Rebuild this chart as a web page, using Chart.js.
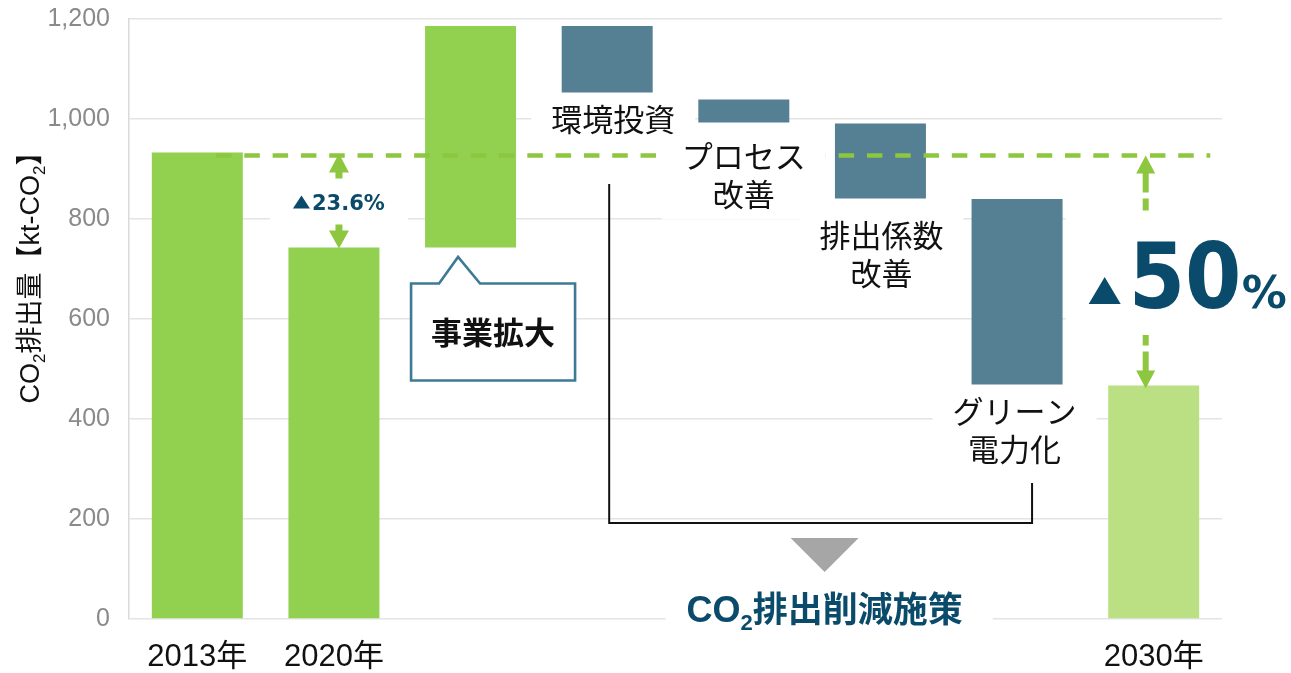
<!DOCTYPE html>
<html><head><meta charset="utf-8">
<script src="https://cdn.jsdelivr.net/npm/chart.js@4.4.1/dist/chart.umd.min.js"></script>
<style>html,body{margin:0;padding:0;background:#fff;overflow:hidden}</style>
</head><body>
<canvas id="c" width="1291" height="673"></canvas>
<script>
// ---- data ----
const categories = ['2013年','2020年','事業拡大','環境投資','プロセス改善','排出係数改善','グリーン電力化','2030年'];
const barLow  = [0, 0, 743, 1053, 993, 841, 469, 0];
const barHigh = [933, 743, 1186, 1186, 1039, 991, 840, 467];
const barColors = ['#92D050','#92D050','#92D050','#557F93','#557F93','#557F93','#557F93','#BBE083'];
const tickLabels = ['2013年','2020年','','','','','','2030年'];
const yTicks = [0,200,400,600,800,1000,1200];
const stepLabels = [null,null,null,['環境投資'],['プロセス','改善'],['排出係数','改善'],['グリーン','電力化'],null];
const baseline2013 = 927;
const label2020 = '▲23.6%';
const label2030 = ['50','%'];
const calloutText = '事業拡大';
const groupLabel = ['CO','2','排出削減施策'];
const yTitle = [['CO','l'],['2','s'],['排出量','c'],['【','c'],['kt-CO','l'],['2','s'],['】','c']];

const GREEN = '#8DC63F', NAVY = '#0A4A6A';
const LATIN = '"Liberation Sans", "Noto Sans CJK JP"';
const CJK = '"Noto Sans CJK JP", "Liberation Sans"';

const overlay = {
  id: 'overlay',
  afterDatasetsDraw(chart) {
    const ctx = chart.ctx;
    const xs = chart.scales.x, ys = chart.scales.y;
    const cx = i => xs.getPixelForValue(i);
    const cw = cx(1) - cx(0);
    const py = v => ys.getPixelForValue(v);
    ctx.save();

    // dashed 2013 reference line
    const by = py(baseline2013);
    ctx.strokeStyle = GREEN; ctx.lineWidth = 4.5; ctx.setLineDash([15.5, 12.8]);
    ctx.beginPath(); ctx.moveTo(cx(0) + 0.137*cw, by); ctx.lineTo(cx(7) + 0.414*cw, by); ctx.stroke();
    ctx.setLineDash([]);

    function head(x, tip, dir, w, h) {
      ctx.beginPath(); ctx.moveTo(x, tip); ctx.lineTo(x - w/2, tip + dir*h); ctx.lineTo(x + w/2, tip + dir*h); ctx.closePath(); ctx.fill();
    }
    function tri(xl, base, w, h) {
      ctx.beginPath(); ctx.moveTo(xl, base); ctx.lineTo(xl + w, base); ctx.lineTo(xl + w/2, base - h); ctx.closePath(); ctx.fill();
    }
    ctx.fillStyle = GREEN; ctx.strokeStyle = GREEN;
    // 2020 arrow
    const a1 = cx(1) + 5, top1 = by - 2, bot1 = py(barHigh[1]) + 1;
    head(a1, top1, 1, 20, 19); head(a1, bot1, -1, 20, 18);
    ctx.lineWidth = 7; ctx.beginPath(); ctx.moveTo(a1, top1 + 18); ctx.lineTo(a1, bot1 - 17); ctx.stroke();
    // 2030 arrow
    const a2 = cx(7) - 8, top2 = by, bot2 = py(barHigh[7]) + 3;
    head(a2, top2, 1, 19, 18); head(a2, bot2, -1, 19, 18);
    ctx.lineWidth = 6;
    ctx.setLineDash([20, 6, 12, 6]);
    ctx.beginPath(); ctx.moveTo(a2, top2 + 17); ctx.lineTo(a2, (top2 + bot2)/2); ctx.stroke();
    ctx.beginPath(); ctx.moveTo(a2, bot2 - 17); ctx.lineTo(a2, (top2 + bot2)/2); ctx.stroke();
    ctx.setLineDash([]);

    // step labels with white boxes
    const stepFont = '31px ' + CJK;
    const pos = {3:{dx:6, dy:27}, 4:{dx:0, dy:34}, 5:{dx:1, dy:37}, 6:{dx:-2.5, dy:27}};
    const gap = 38;
    ctx.font = stepFont;
    stepLabels.forEach((lines, i) => {
      if (!lines) return;
      const xc = cx(i) + pos[i].dx, y0 = py(barLow[i]) + pos[i].dy;
      const w = Math.max(...lines.map(l => ctx.measureText(l).width));
      ctx.fillStyle = '#fff';
      ctx.fillRect(xc - w/2 - 20, y0 - 14 - 11, w + 40, (lines.length - 1)*gap + 28 + 22);
    });
    ctx.fillStyle = '#111'; ctx.textAlign = 'center'; ctx.textBaseline = 'middle';
    stepLabels.forEach((lines, i) => {
      if (!lines) return;
      const xc = cx(i) + pos[i].dx, y0 = py(barLow[i]) + pos[i].dy;
      lines.forEach((l, k) => ctx.fillText(l, xc, y0 + k*gap));
    });

    // 2020 label (triangle drawn as a shape, then the number)
    const m1 = (top1 + bot1) / 2 + 0.5;
    ctx.fillStyle = '#fff'; ctx.fillRect(a1 - 69, m1 - 23, 138, 46);
    ctx.fillStyle = NAVY;
    tri(a1 - 46, m1 + 7, 17, 13);
    ctx.font = 'bold 21px "DejaVu Sans"'; ctx.textAlign = 'left'; ctx.textBaseline = 'alphabetic';
    ctx.fillText(label2020.slice(1), a1 - 27, m1 + 8);

    // 2030 label
    const m2 = (top2 + bot2) / 2;
    ctx.fillStyle = '#fff'; ctx.fillRect(a2 - 80, m2 - 60, 260, 123);
    ctx.fillStyle = NAVY;
    const base = m2 + 36;
    tri(a2 - 57, base - 4, 32, 27);
    ctx.save(); ctx.translate(a2 - 17, base); ctx.scale(0.9, 1);
    ctx.font = 'bold 90px "DejaVu Sans"'; ctx.fillText(label2030[0], 0, 0);
    ctx.restore();
    ctx.font = 'bold 45px "DejaVu Sans"'; ctx.fillText(label2030[1], a2 + 96, base);

    // callout for 事業拡大
    const c2 = cx(2), bb = py(barLow[2]);
    const bxL = c2 - 59.5, bxR = c2 + 104.5, bxT = bb + 36, bxB = bb + 133;
    ctx.beginPath();
    ctx.moveTo(bxL, bxT); ctx.lineTo(c2 - 31.5, bxT); ctx.lineTo(c2 - 12.5, bb + 9.5); ctx.lineTo(c2 + 9.5, bxT);
    ctx.lineTo(bxR, bxT); ctx.lineTo(bxR, bxB); ctx.lineTo(bxL, bxB); ctx.closePath();
    ctx.fillStyle = '#fff'; ctx.fill();
    ctx.strokeStyle = '#3D7A94'; ctx.lineWidth = 2.6; ctx.lineJoin = 'miter'; ctx.stroke();
    ctx.fillStyle = '#111'; ctx.font = 'bold 31px ' + CJK; ctx.textAlign = 'center'; ctx.textBaseline = 'middle';
    ctx.fillText(calloutText, (bxL + bxR)/2, (bxT + bxB)/2 + 0.5);

    // bracket
    const bl = cx(3) + 2, br = cx(6) + 15;
    ctx.strokeStyle = '#111'; ctx.lineWidth = 2;
    ctx.beginPath(); ctx.moveTo(bl, py(870)); ctx.lineTo(bl, py(192)); ctx.lineTo(br, py(192)); ctx.lineTo(br, py(272)); ctx.stroke();
    const mid = (bl + br) / 2 + 4;
    ctx.fillStyle = '#A6A6A6';
    ctx.beginPath(); ctx.moveTo(mid - 34, py(162)); ctx.lineTo(mid + 34, py(162)); ctx.lineTo(mid, py(94)); ctx.closePath(); ctx.fill();

    // group label CO2排出削減施策
    const gb = py(0) + 3;
    const f1 = 'bold 36px "Liberation Sans"', f2 = 'bold 22px "Liberation Sans"', f3 = 'bold 35px ' + CJK;
    ctx.font = f1; const gw1 = ctx.measureText(groupLabel[0]).width;
    ctx.font = f2; const gw2 = ctx.measureText(groupLabel[1]).width;
    ctx.font = f3; const gw3 = ctx.measureText(groupLabel[2]).width;
    const gw = gw1 + gw2 + gw3;
    let gx = mid - gw/2;
    ctx.fillStyle = '#fff'; ctx.fillRect(gx - 21, gb - 38, gw + 51, 52);
    ctx.fillStyle = NAVY; ctx.textAlign = 'left'; ctx.textBaseline = 'alphabetic';
    ctx.font = f1; ctx.fillText(groupLabel[0], gx, gb); gx += gw1;
    ctx.font = f2; ctx.fillText(groupLabel[1], gx, gb + 8); gx += gw2;
    ctx.font = f3; ctx.fillText(groupLabel[2], gx, gb);

    // y axis title
    const tf = {l: '27px ' + LATIN, s: '17px ' + LATIN, c: '27px ' + CJK};
    let tw = 0;
    yTitle.forEach(([t, k]) => { ctx.font = tf[k]; tw += ctx.measureText(t).width; });
    ctx.translate(39, (chart.chartArea.top + chart.chartArea.bottom)/2 - 48);
    ctx.rotate(-Math.PI/2);
    ctx.fillStyle = '#111';
    let tx = -tw/2;
    yTitle.forEach(([t, k]) => {
      ctx.font = tf[k];
      ctx.fillText(t, tx, k === 's' ? 6 : 0);
      tx += ctx.measureText(t).width;
    });
    ctx.restore();
  }
};

new Chart(document.getElementById('c'), {
  type: 'bar',
  data: {
    labels: categories,
    datasets: [{
      data: categories.map((c, i) => [barLow[i], barHigh[i]]),
      backgroundColor: barColors,
      borderWidth: 0,
      barPercentage: 0.666,
      categoryPercentage: 1.0
    }]
  },
  options: {
    responsive: false,
    animation: false,
    layout: { padding: { left: 0, right: 69, top: 19, bottom: 0 } },
    plugins: { legend: { display: false }, tooltip: { enabled: false } },
    scales: {
      x: {
        grid: { display: false },
        border: { display: false },
        ticks: {
          padding: 12, color: '#111', maxRotation: 0, autoSkip: false,
          font: { family: LATIN, size: 31 },
          callback: (v, i) => tickLabels[i]
        },
        afterFit: s => { s.height = 54; s.paddingLeft = 0; s.paddingRight = 0; }
      },
      y: {
        min: 0, max: 1200,
        afterBuildTicks: s => { s.ticks = yTicks.map(v => ({ value: v })); },
        ticks: {
          padding: 19, color: '#8A8A8A',
          font: { family: '"Liberation Sans"', size: 25 },
          callback: v => v.toLocaleString('en-US')
        },
        grid: { color: '#E4E4E4', lineWidth: 1.5, drawTicks: false },
        border: { display: true, color: '#DADADA', width: 1.5 },
        afterFit: s => { s.width = 129; s.paddingTop = 0; s.paddingBottom = 0; }
      }
    }
  },
  plugins: [overlay]
});
</script>
</body></html>
